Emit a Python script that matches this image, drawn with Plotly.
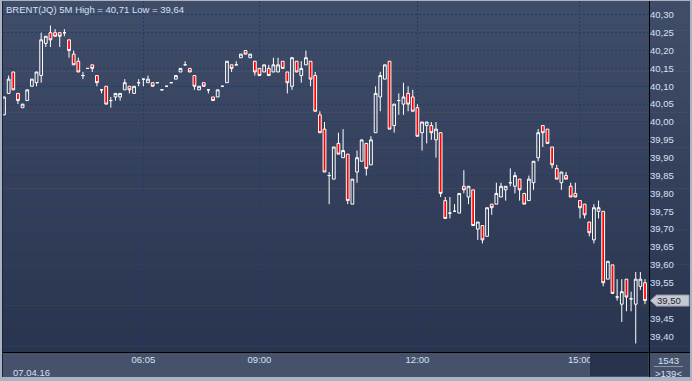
import plotly.graph_objects as go

# ---------------- data ----------------
title_text = "BRENT(JQ) 5M High = 40,71 Low = 39,64"
date_label = "07.04.16"
bar_count_label = "1543"
visible_bars_label = ">139<"

opens = [40.02, 40.08, 40.14, 40.08, 40.04, 40.06, 40.10, 40.11, 40.13, 40.22,
         40.25, 40.25, 40.25, 40.25, 40.23, 40.19, 40.17, 40.13, 40.15, 40.16,
         40.13, 40.09, 40.10, 40.06, 40.07, 40.07, 40.09, 40.10, 40.08, 40.11,
         40.12, 40.11, 40.11, 40.11, 40.09, 40.10, 40.11, 40.12, 40.14, 40.16,
         40.15, 40.13, 40.09, 40.11, 40.09, 40.07, 40.07, 40.10, 40.11, 40.16,
         40.16, 40.18, 40.20, 40.18, 40.17, 40.15, 40.14, 40.15, 40.14, 40.14,
         40.17, 40.14, 40.10, 40.17, 40.13, 40.16, 40.17, 40.13, 40.02, 39.98,
         39.85, 39.84, 39.94, 39.90, 39.91, 39.77, 39.86, 39.89, 39.94, 39.88,
         39.97, 40.07, 40.12, 40.17, 39.99, 40.06, 40.05, 40.08, 40.07, 40.04,
         39.97, 39.99, 39.99, 39.95, 39.97, 39.78, 39.745, 39.75, 39.745, 39.82,
         39.79, 39.81, 39.70, 39.71, 39.68, 39.77, 39.77, 39.79, 39.81, 39.83,
         39.82, 39.84, 39.80, 39.78, 39.83, 39.90, 39.99, 39.98, 39.93, 39.87,
         39.83, 39.85, 39.82, 39.80, 39.78, 39.77, 39.72, 39.67, 39.75, 39.75,
         39.56, 39.60, 39.51, 39.49, 39.56, 39.505, 39.49, 39.54, 39.55]

highs = [40.07, 40.13, 40.14, 40.08, 40.05, 40.09, 40.12, 40.14, 40.25, 40.24,
         40.27, 40.26, 40.25, 40.26, 40.23, 40.20, 40.18, 40.14, 40.15, 40.16,
         40.13, 40.09, 40.10, 40.07, 40.08, 40.08, 40.12, 40.10, 40.10, 40.12,
         40.12, 40.13, 40.11, 40.11, 40.09, 40.10, 40.11, 40.13, 40.15, 40.17,
         40.15, 40.13, 40.10, 40.11, 40.09, 40.07, 40.09, 40.10, 40.17, 40.16,
         40.17, 40.19, 40.20, 40.19, 40.17, 40.15, 40.16, 40.16, 40.18, 40.18,
         40.17, 40.14, 40.18, 40.17, 40.17, 40.20, 40.17, 40.14, 40.03, 40.00,
         39.86, 39.93, 39.97, 39.98, 39.91, 39.84, 39.92, 39.95, 39.94, 39.96,
         40.10, 40.14, 40.16, 40.17, 40.05, 40.08, 40.11, 40.10, 40.09, 40.05,
         40.00, 40.00, 40.00, 40.00, 39.97, 39.79, 39.79, 39.77, 39.80, 39.865,
         39.82, 39.81, 39.72, 39.71, 39.76, 39.77, 39.83, 39.83, 39.82, 39.87,
         39.86, 39.84, 39.80, 39.85, 39.89, 39.98, 39.99, 39.98, 39.93, 39.88,
         39.86, 39.86, 39.83, 39.83, 39.78, 39.77, 39.72, 39.77, 39.78, 39.75,
         39.61, 39.60, 39.56, 39.56, 39.56, 39.525, 39.58, 39.58, 39.56]

lows = [40.02, 40.08, 40.09, 40.05, 40.04, 40.06, 40.10, 40.10, 40.11, 40.21,
        40.21, 40.24, 40.21, 40.24, 40.18, 40.16, 40.14, 40.12, 40.15, 40.14,
        40.10, 40.08, 40.05, 40.04, 40.06, 40.06, 40.09, 40.08, 40.08, 40.10,
        40.10, 40.11, 40.10, 40.11, 40.09, 40.10, 40.11, 40.12, 40.14, 40.16,
        40.14, 40.09, 40.09, 40.10, 40.08, 40.06, 40.07, 40.10, 40.11, 40.14,
        40.16, 40.18, 40.19, 40.18, 40.13, 40.13, 40.14, 40.13, 40.14, 40.14,
        40.15, 40.08, 40.09, 40.14, 40.11, 40.16, 40.10, 40.03, 39.97, 39.86,
        39.77, 39.84, 39.91, 39.90, 39.77, 39.77, 39.83, 39.89, 39.85, 39.88,
        39.97, 40.03, 40.12, 39.98, 39.97, 40.02, 40.02, 40.03, 40.03, 39.96,
        39.92, 39.94, 39.95, 39.90, 39.79, 39.73, 39.73, 39.75, 39.745, 39.80,
        39.77, 39.71, 39.67, 39.66, 39.68, 39.74, 39.77, 39.79, 39.78, 39.82,
        39.80, 39.78, 39.77, 39.78, 39.81, 39.89, 39.93, 39.94, 39.87, 39.84,
        39.81, 39.84, 39.79, 39.79, 39.73, 39.73, 39.68, 39.66, 39.73, 39.54,
        39.56, 39.52, 39.50, 39.44, 39.47, 39.47, 39.38, 39.53, 39.49]

closes = [40.07, 40.12, 40.09, 40.06, 40.05, 40.09, 40.12, 40.14, 40.23, 40.24,
          40.23, 40.24, 40.24, 40.25, 40.20, 40.16, 40.14, 40.13, 40.15, 40.15,
          40.11, 40.09, 40.05, 40.06, 40.08, 40.08, 40.11, 40.09, 40.10, 40.11,
          40.12, 40.12, 40.10, 40.11, 40.09, 40.10, 40.11, 40.13, 40.15, 40.16,
          40.14, 40.10, 40.10, 40.10, 40.09, 40.06, 40.09, 40.10, 40.17, 40.15,
          40.16, 40.19, 40.19, 40.19, 40.14, 40.13, 40.16, 40.13, 40.16, 40.16,
          40.15, 40.11, 40.18, 40.14, 40.15, 40.18, 40.12, 40.03, 39.97, 39.86,
          39.85, 39.93, 39.91, 39.92, 39.78, 39.84, 39.90, 39.95, 39.87, 39.95,
          40.08, 40.13, 40.16, 39.98, 40.05, 40.06, 40.07, 40.05, 40.03, 39.96,
          40.00, 40.00, 39.97, 39.98, 39.80, 39.73, 39.745, 39.75, 39.80, 39.81,
          39.82, 39.71, 39.72, 39.67, 39.76, 39.76, 39.80, 39.82, 39.82, 39.83,
          39.85, 39.81, 39.77, 39.84, 39.89, 39.97, 39.97, 39.94, 39.88, 39.84,
          39.86, 39.84, 39.79, 39.79, 39.76, 39.74, 39.69, 39.76, 39.76, 39.55,
          39.61, 39.52, 39.51, 39.525, 39.51, 39.505, 39.56, 39.56, 39.50]

bar_index = list(range(len(closes)))

time_tick_bars = [30, 55, 89, 124]
time_tick_labels = ["06:05", "09:00", "12:00", "15:00"]

price_ticks = [39.40, 39.45, 39.50, 39.55, 39.60, 39.65, 39.70, 39.75, 39.80, 39.85,
               39.90, 39.95, 40.00, 40.05, 40.10, 40.15, 40.20, 40.25, 40.30]

last = closes[-1]
# the last-price tag replaces the axis label at the same level
price_tick_labels = ["" if abs(v - last) < 1e-9 else f"{v:.2f}".replace(".", ",")
                     for v in price_ticks]

# ---------------- layout helpers ----------------
W, H = 692, 381
def px(xp):
    return xp / W
def py(yp):
    return 1 - yp / H

FONT = "Liberation Sans, Arial, sans-serif"
TXT = "#d6e0f2"
FS = 9.5

fig = go.Figure()
fig.add_trace(go.Candlestick(
    x=bar_index, open=opens, high=highs, low=lows, close=closes,
    increasing=dict(line=dict(color="#ffffff", width=1), fillcolor="rgba(0,0,0,0)"),
    decreasing=dict(line=dict(color="#ffffff", width=1), fillcolor="#ff0000"),
    whiskerwidth=0, hoverinfo="skip", showlegend=False,
))

shapes = []
# background gradient (plot + right axis area)
top_c = (64, 77, 105)
bot_c = (41, 52, 78)
n = 60
y0, y1 = 1, 352
for k in range(n):
    t = (k + 0.5) / n
    c = tuple(round(top_c[j] + (bot_c[j] - top_c[j]) * t) for j in range(3))
    ya = y0 + (y1 - y0) * k / n
    yb = y0 + (y1 - y0) * (k + 1) / n + 0.6
    shapes.append(dict(type="rect", xref="paper", yref="paper", layer="below",
                       x0=px(2), x1=px(690), y0=py(yb), y1=py(ya),
                       line=dict(width=0), fillcolor="rgb(%d,%d,%d)" % c))
# bottom axis strip
shapes.append(dict(type="rect", xref="paper", yref="paper", layer="below",
                   x0=px(2), x1=px(690), y0=py(377), y1=py(352),
                   line=dict(width=0), fillcolor="#46526c"))
# dark box at bottom right of plot
shapes.append(dict(type="rect", xref="paper", yref="paper", layer="above",
                   x0=px(590), x1=px(648.5), y0=py(376), y1=py(353),
                   line=dict(width=0), fillcolor="#28324b"))
# separator lines
shapes.append(dict(type="line", xref="paper", yref="paper", layer="above",
                   x0=px(649.5), x1=px(649.5), y0=py(377), y1=py(1),
                   line=dict(color="#000000", width=1)))
shapes.append(dict(type="line", xref="paper", yref="paper", layer="above",
                   x0=px(2), x1=px(690), y0=py(352.5), y1=py(352.5),
                   line=dict(color="#000000", width=1)))
shapes.append(dict(type="line", xref="paper", yref="paper", layer="above",
                   x0=px(2.5), x1=px(2.5), y0=py(377), y1=py(1),
                   line=dict(color="#1a2234", width=1)))
# line between bar counts
shapes.append(dict(type="line", xref="paper", yref="paper", layer="above",
                   x0=px(654), x1=px(683), y0=py(366.5), y1=py(366.5),
                   line=dict(color="#8d97ab", width=1)))
# last price tag (pointer + box)
half = 5.5 / 357.2
shapes.append(dict(type="path", xref="paper", yref="y", layer="above",
                   path=f"M {px(650.5)} {last} L {px(656.5)} {last + half} L {px(689)} {last + half} "
                        f"L {px(689)} {last - half} L {px(656.5)} {last - half} Z",
                   fillcolor="#c3c8d1", line=dict(color="#9aa2b0", width=1)))

annotations = [
    dict(text=title_text, x=px(4), y=py(2), xref="paper", yref="paper",
         xanchor="left", yanchor="top", showarrow=False,
         font=dict(family=FONT, size=FS, color=TXT)),
    dict(text=date_label, x=px(11), y=py(372), xref="paper", yref="paper",
         xanchor="left", yanchor="middle", showarrow=False,
         font=dict(family=FONT, size=FS, color=TXT)),
    dict(text=bar_count_label, x=px(668), y=py(360), xref="paper", yref="paper",
         xanchor="center", yanchor="middle", showarrow=False,
         font=dict(family=FONT, size=FS, color=TXT)),
    dict(text=visible_bars_label, x=px(668), y=py(373), xref="paper", yref="paper",
         xanchor="center", yanchor="middle", showarrow=False,
         font=dict(family=FONT, size=FS, color=TXT)),
    dict(text=f"{last:.2f}".replace(".", ","), x=px(669), y=last, xref="paper", yref="y",
         xanchor="center", yanchor="middle", showarrow=False,
         font=dict(family=FONT, size=FS, color="#1e2638")),
]

grid = dict(gridcolor="#1d3d6e", griddash="2px,2px", gridwidth=1)

fig.update_layout(
    width=W, height=H, autosize=False,
    margin=dict(l=0, r=0, t=0, b=0, pad=0),
    paper_bgcolor="#aab3c3", plot_bgcolor="rgba(0,0,0,0)",
    showlegend=False, shapes=shapes, annotations=annotations,
    boxgap=0.15,
    xaxis=dict(domain=[px(3), px(649)], range=[-0.215, 138.86],
               rangeslider=dict(visible=False), showgrid=True,
               tickmode="array", tickvals=time_tick_bars, ticktext=time_tick_labels,
               ticks="", showline=False, zeroline=False,
               tickfont=dict(family=FONT, size=FS, color=TXT), **grid),
    yaxis=dict(domain=[1 - 352 / H, 1 - 1 / H], range=[39.3561, 40.3387],
               side="right", tickmode="array", tickvals=price_ticks, ticktext=price_tick_labels,
               ticks="", showline=False, zeroline=False, showgrid=True,
               tickfont=dict(family=FONT, size=FS, color=TXT), **grid),
)

fig.write_html("out.html")
